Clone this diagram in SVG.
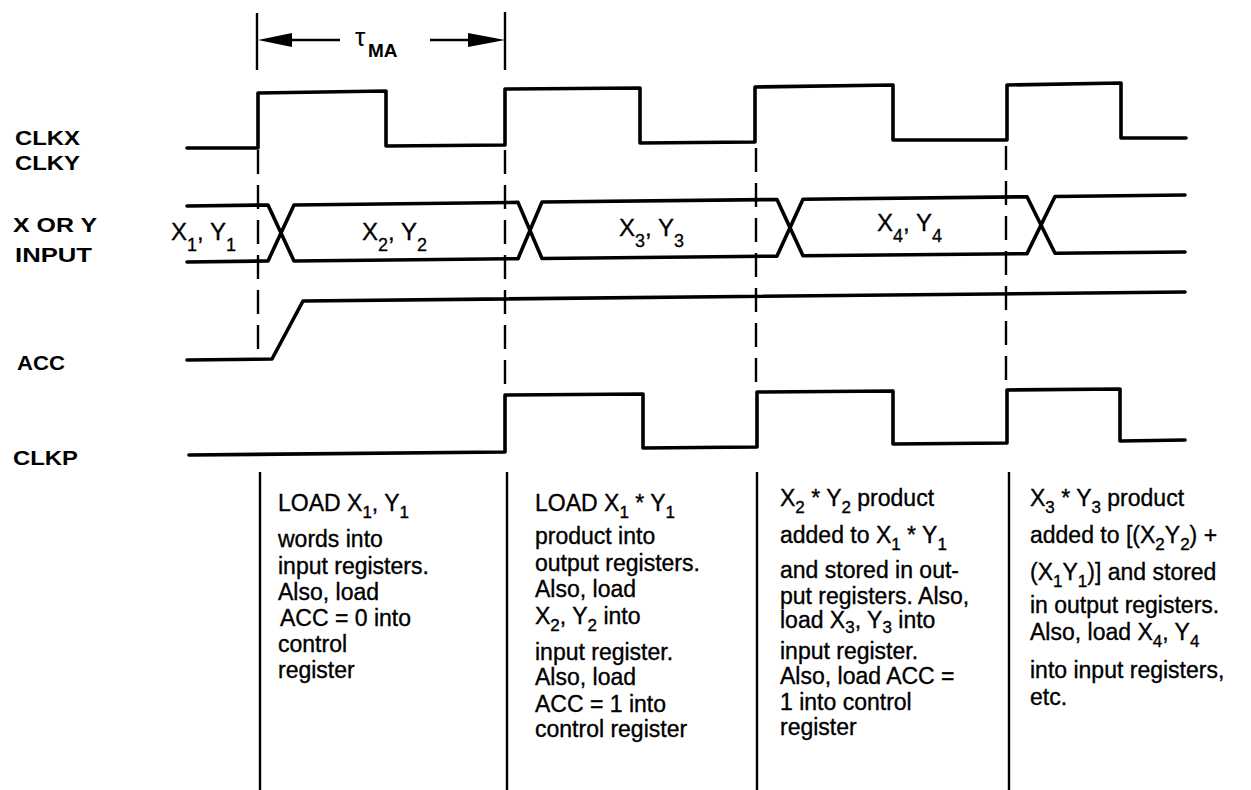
<svg xmlns="http://www.w3.org/2000/svg" width="1251" height="790" viewBox="0 0 1251 790">
<style>
.bg{fill:#fff}
.w{fill:none;stroke:#000;stroke-width:3.6;stroke-linejoin:round;stroke-linecap:round}
.g{fill:none;stroke:#000;stroke-width:2.4}
.d{fill:none;stroke:#000;stroke-width:2.4;stroke-dasharray:24 11}
.lbl{font-family:"Liberation Sans",Arial,sans-serif;font-weight:bold;font-size:20px;fill:#000}
.t{font-family:"Liberation Sans",Arial,sans-serif;font-size:23px;fill:#000;stroke:#000;stroke-width:0.35}
.v{font-family:"Liberation Sans",Arial,sans-serif;font-size:24px;fill:#000;stroke:#000;stroke-width:0.3}
.s{font-size:17px}
.vs{font-size:18px}
.tau{font-family:"Liberation Sans",Arial,sans-serif;font-size:26px;fill:#000}
.ma{font-family:"Liberation Sans",Arial,sans-serif;font-size:19px;font-weight:bold}
</style>
<rect class="bg" x="0" y="0" width="1251" height="790"/>

<g id="labels">
<text class="lbl" x="15" y="145" textLength="65" lengthAdjust="spacingAndGlyphs">CLKX</text>
<text class="lbl" x="15" y="170" textLength="65" lengthAdjust="spacingAndGlyphs">CLKY</text>
<text class="lbl" x="13" y="232" textLength="84" lengthAdjust="spacingAndGlyphs">X OR Y</text>
<text class="lbl" x="15" y="262" textLength="77" lengthAdjust="spacingAndGlyphs">INPUT</text>
<text class="lbl" x="17" y="370" textLength="48" lengthAdjust="spacingAndGlyphs">ACC</text>
<text class="lbl" x="13" y="465" textLength="65" lengthAdjust="spacingAndGlyphs">CLKP</text>
</g>

<g id="tau">
<line class="g" x1="257" y1="13" x2="257" y2="70"/>
<line class="g" x1="505" y1="12" x2="505" y2="70"/>
<line class="g" x1="288" y1="40" x2="340" y2="40"/>
<polygon points="258,40 292,33 292,47" fill="#000"/>
<line class="g" x1="430" y1="40" x2="470" y2="40"/>
<polygon points="505,40 468,33 468,47" fill="#000"/>
<text class="tau" x="355" y="46">τ</text>
<text class="ma" x="368" y="57">MA</text>
</g>

<g id="guides">
<line class="d" x1="258" y1="150" x2="258" y2="360"/>
<line class="d" x1="505" y1="150" x2="505" y2="395"/>
<line class="d" x1="756" y1="148" x2="756" y2="392"/>
<line class="d" x1="1006" y1="146" x2="1006" y2="390"/>
<line class="g" x1="260" y1="472" x2="260" y2="790"/>
<line class="g" x1="507" y1="472" x2="507" y2="790"/>
<line class="g" x1="757" y1="472" x2="757" y2="790"/>
<line class="g" x1="1009" y1="472" x2="1009" y2="790"/>
</g>

<g id="clkx">
<path class="w" d="M187,148 L258,148 L258,93 L386,91 L386,146 L505,145 L505,89 L640,88 L640,143 L755,142 L755,87 L893,85 L893,140 L1007,140 L1007,85 L1121,83 L1121,138 L1186,138"/>
</g>

<g id="input">
<path class="w" d="M187,206 L268,205 L294,261 L518,258.7 L542,202 L777,199.5 L803,255.8 L1027,253.6 L1055,196.5 L1185,195"/>
<path class="w" d="M187,262 L268,261 L294,205 L518,202.4 L542,258.5 L777,256.1 L803,199.2 L1027,196.8 L1055,253.3 L1185,252"/>
<text class="v" x="171" y="240">X<tspan class="vs" dy="11">1</tspan><tspan dy="-11">, Y</tspan><tspan class="vs" dy="11">1</tspan></text>
<text class="v" x="362" y="240">X<tspan class="vs" dy="11">2</tspan><tspan dy="-11">, Y</tspan><tspan class="vs" dy="11">2</tspan></text>
<text class="v" x="619" y="236">X<tspan class="vs" dy="11">3</tspan><tspan dy="-11">, Y</tspan><tspan class="vs" dy="11">3</tspan></text>
<text class="v" x="877" y="231">X<tspan class="vs" dy="11">4</tspan><tspan dy="-11">, Y</tspan><tspan class="vs" dy="11">4</tspan></text>
</g>

<g id="acc">
<path class="w" d="M187,360 L272,359 L303,301 L1185,292"/>
</g>

<g id="clkp">
<path class="w" d="M189,455 L505,452 L505,395 L643,394 L643,448 L757,447 L757,392 L893,391 L893,444 L1007,443 L1007,390 L1120,389 L1120,441 L1185,440"/>
</g>

<g id="step1">
<text class="t" x="278" y="511">LOAD X<tspan class="s" dy="7">1</tspan><tspan dy="-7">, Y</tspan><tspan class="s" dy="7">1</tspan></text>
<text class="t" x="278" y="547">words into</text>
<text class="t" x="278" y="574">input registers.</text>
<text class="t" x="278" y="600">Also, load</text>
<text class="t" x="280" y="626">ACC = 0 into</text>
<text class="t" x="278" y="652">control</text>
<text class="t" x="278" y="678">register</text>
</g>

<g id="step2">
<text class="t" x="535" y="511">LOAD X<tspan class="s" dy="7">1</tspan><tspan dy="-7"> * Y</tspan><tspan class="s" dy="7">1</tspan></text>
<text class="t" x="535" y="544">product into</text>
<text class="t" x="535" y="571">output registers.</text>
<text class="t" x="535" y="597">Also, load</text>
<text class="t" x="535" y="624">X<tspan class="s" dy="7">2</tspan><tspan dy="-7">, Y</tspan><tspan class="s" dy="7">2</tspan><tspan dy="-7"> into</tspan></text>
<text class="t" x="535" y="660">input register.</text>
<text class="t" x="535" y="685">Also, load</text>
<text class="t" x="535" y="712">ACC = 1 into</text>
<text class="t" x="535" y="737">control register</text>
</g>

<g id="step3">
<text class="t" x="780" y="506">X<tspan class="s" dy="7">2</tspan><tspan dy="-7"> * Y</tspan><tspan class="s" dy="7">2</tspan><tspan dy="-7"> product</tspan></text>
<text class="t" x="780" y="543">added to X<tspan class="s" dy="7">1</tspan><tspan dy="-7"> * Y</tspan><tspan class="s" dy="7">1</tspan></text>
<text class="t" x="780" y="578">and stored in out-</text>
<text class="t" x="780" y="604">put registers.  Also,</text>
<text class="t" x="780" y="628">load X<tspan class="s" dy="5">3</tspan><tspan dy="-5">, Y</tspan><tspan class="s" dy="5">3</tspan><tspan dy="-5"> into</tspan></text>
<text class="t" x="780" y="659">input register.</text>
<text class="t" x="780" y="684">Also, load ACC =</text>
<text class="t" x="780" y="710">1 into control</text>
<text class="t" x="780" y="735">register</text>
</g>

<g id="step4">
<text class="t" x="1030" y="506">X<tspan class="s" dy="7">3</tspan><tspan dy="-7"> * Y</tspan><tspan class="s" dy="7">3</tspan><tspan dy="-7"> product</tspan></text>
<text class="t" x="1030" y="543">added to [(X<tspan class="s" dy="7">2</tspan><tspan dy="-7">Y</tspan><tspan class="s" dy="7">2</tspan><tspan dy="-7">) +</tspan></text>
<text class="t" x="1030" y="580">(X<tspan class="s" dy="7">1</tspan><tspan dy="-7">Y</tspan><tspan class="s" dy="7">1</tspan><tspan dy="-7">)] and stored</tspan></text>
<text class="t" x="1030" y="613">in output registers.</text>
<text class="t" x="1030" y="640">Also, load X<tspan class="s" dy="7">4</tspan><tspan dy="-7">, Y</tspan><tspan class="s" dy="7">4</tspan></text>
<text class="t" x="1030" y="678">into input registers,</text>
<text class="t" x="1030" y="705">etc.</text>
</g>
</svg>
